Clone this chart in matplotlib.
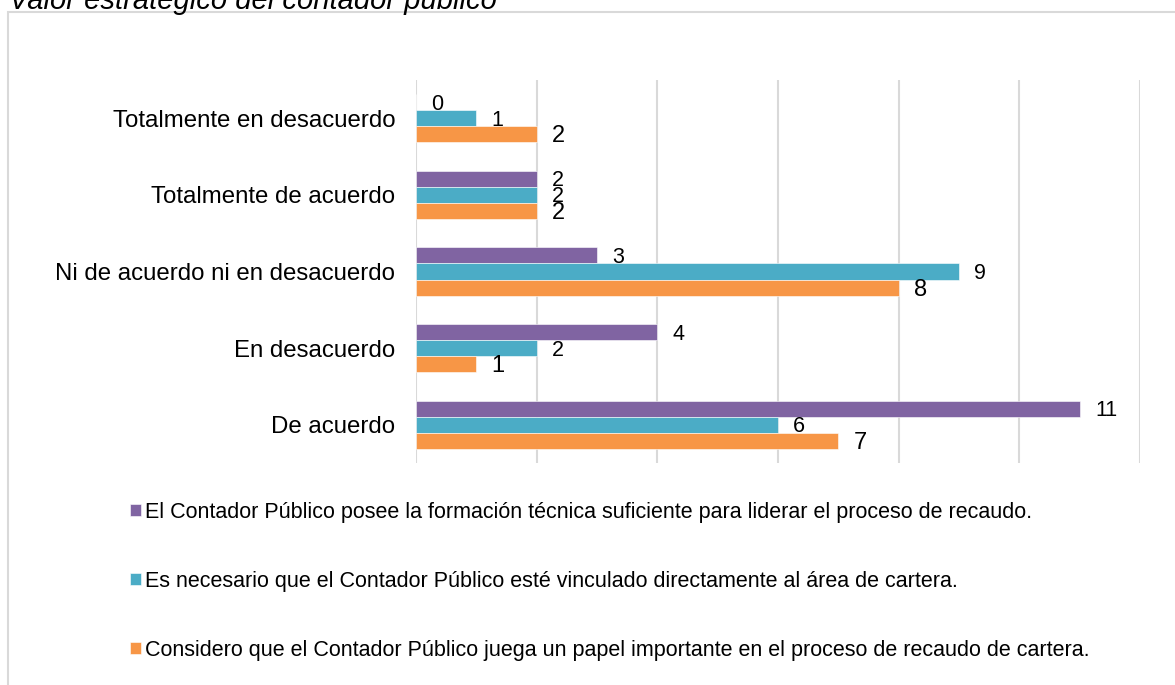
#!/usr/bin/env python3
"""Valor estrategico del contador publico -- grouped horizontal bars."""

import matplotlib
matplotlib.use("Agg")
import matplotlib.pyplot as plt
import matplotlib.patches as mpatches
import numpy as np

plt.rcParams["font.family"] = ["Liberation Sans", "DejaVu Sans"]

TITLE = "Valor estratégico del contador público"
categories = ["Totalmente en desacuerdo", "Totalmente de acuerdo",
              "Ni de acuerdo ni en desacuerdo", "En desacuerdo", "De acuerdo"]
series_names = [
    "El Contador Público posee la formación técnica suficiente para liderar el proceso de recaudo.",
    "Es necesario que el Contador Público esté vinculado directamente al área de cartera.",
    "Considero que el Contador Público juega un papel importante en el proceso de recaudo de cartera.",
]
formacion = [0, 2, 3, 4, 11]
vinculado = [1, 2, 9, 2, 6]
papel = [2, 2, 8, 1, 7]

colors = ["#8064A2", "#4BACC6", "#F79646"]
W, H = 1175, 685

fig = plt.figure(figsize=(W / 100, H / 100), dpi=100)

# outer chart frame (partly cut off by the page, as in the source)
fig.patches.append(mpatches.Rectangle((8 / W, -0.1), 1.2, 1.1 - 12 / H,
                                      transform=fig.transFigure, fill=False,
                                      edgecolor="#d9d9d9", lw=1.5))
fig.text(9 / W, 1 - 9 / H, TITLE, style="italic", fontsize=21,
         va="baseline", ha="left")

ax = fig.add_axes([416 / W, 1 - 463 / H, (1140 - 416) / W, (463 - 80) / H])
y = np.arange(len(categories))
h = 0.21
handles = []
for k, (vals, c) in enumerate(zip([formacion, vinculado, papel], colors)):
    pos = y + (k - 1) * h
    b = ax.barh(pos, vals, height=h, color=c, edgecolor="white", lw=0.4,
                zorder=3)
    handles.append(b)
    fs = 17 if k == 2 else 15.5
    for p, v in zip(pos, vals):
        ax.annotate(str(v), (v, p), xytext=(11, -1.5),
                    textcoords="offset points", va="center", ha="left",
                    fontsize=fs)

ax.set_xlim(0, 12)
ax.set_ylim(len(categories) - 0.5, -0.5)
ax.set_xticks(np.arange(0, 13, 2))
ax.set_xticklabels([])
ax.tick_params(axis="x", length=0)
ax.set_yticks(y)
ax.set_yticklabels(categories, fontsize=17.3)
ax.tick_params(axis="y", length=0, pad=15)
ax.grid(axis="x", color="#d9d9d9", lw=1.5, zorder=0)
for s in ax.spines.values():
    s.set_visible(False)

fig.legend(handles, series_names, loc="upper left",
           bbox_to_anchor=(130 / W, 1 - 502 / H), bbox_transform=fig.transFigure,
           frameon=False, fontsize=15.5, handlelength=0.5, handleheight=0.5,
           handletextpad=0.18, labelspacing=2.22, borderpad=0, borderaxespad=0)

fig.savefig("out.png", dpi=100)
